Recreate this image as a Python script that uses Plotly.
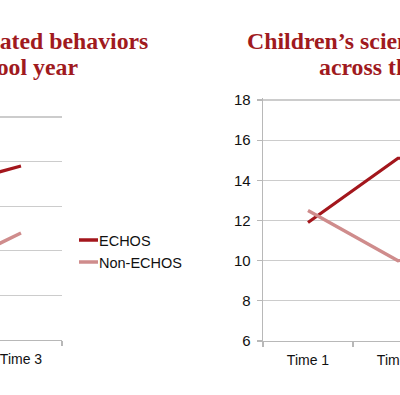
import plotly.graph_objects as go

# ---- data ----
categories = ["Time 1", "Time 2", "Time 3"]
series_names = ["ECHOS", "Non-ECHOS"]
behaviors_echos = [2.6, 3.4, 3.9]
behaviors_non_echos = [1.9, 1.5, 2.4]
knowledge_echos = [11.9, 15.1, 15.6]
knowledge_non_echos = [12.5, 10.0, 10.6]
right_yticks = [6, 8, 10, 12, 14, 16, 18]
left_yticks = [0, 1, 2, 3, 4, 5]
left_title = ["Children\u2019s science-related behaviors", "across the school year"]
right_title = ["Children\u2019s science knowledge scores", "across the school year"]

# ---- style ----
W, H = 400, 395
def px(x):
    return x / W
def py(y):
    return 1 - y / H

ECHOS_COLOR = "#A3161C"
NON_COLOR = "#CF8C8C"
TITLE_COLOR = "#A01A1E"
GRID = "#CCCCCC"
AXIS = "#B8B8B8"
TICK_FONT = dict(family="Liberation Sans, Arial, sans-serif", size=14, color="#111111")
TITLE_FONT = dict(family="Liberation Serif, Times New Roman, serif", size=23.8, color=TITLE_COLOR)

fig = go.Figure()

# left chart
fig.add_trace(go.Scatter(x=categories, y=behaviors_echos, mode="lines", name=series_names[0],
                         line=dict(color=ECHOS_COLOR, width=3.2), xaxis="x", yaxis="y", showlegend=False))
fig.add_trace(go.Scatter(x=categories, y=behaviors_non_echos, mode="lines", name=series_names[1],
                         line=dict(color=NON_COLOR, width=3.4), xaxis="x", yaxis="y", showlegend=False))
# right chart
fig.add_trace(go.Scatter(x=categories, y=knowledge_echos, mode="lines", name=series_names[0],
                         line=dict(color=ECHOS_COLOR, width=3.2), xaxis="x2", yaxis="y2", showlegend=False))
fig.add_trace(go.Scatter(x=categories, y=knowledge_non_echos, mode="lines", name=series_names[1],
                         line=dict(color=NON_COLOR, width=3.4), xaxis="x2", yaxis="y2", showlegend=False))

common_x = dict(type="category", categoryorder="array", categoryarray=categories,
                showline=True, linecolor=AXIS, linewidth=1.3, ticks="outside", tickson="boundaries",
                ticklen=5, tickcolor=AXIS, tickwidth=1.3, showgrid=False, tickfont=TICK_FONT,
                fixedrange=True, ticklabelstandoff=6, automargin=False)

# plot areas extend 2px above the top gridline so that it is not clipped away
left_px_per_unit = (340 - 117) / 5
right_px_per_unit = (341 - 100) / 12

fig.update_layout(
    template="none",
    width=W, height=H,
    margin=dict(l=0, r=0, t=0, b=0, autoexpand=False),
    paper_bgcolor="white", plot_bgcolor="white",
    showlegend=False, hovermode=False,
    xaxis=dict(domain=[0, px(62)], range=[1.744, 2.5], anchor="y", **common_x),
    yaxis=dict(domain=[py(340), py(115)], range=[0, 5 + 2 / left_px_per_unit], tickvals=left_yticks,
               showgrid=True, gridcolor=GRID, gridwidth=1.2, showticklabels=False, ticks="",
               zeroline=False, showline=False, anchor="x", fixedrange=True, automargin=False),
    xaxis2=dict(domain=[px(263), 1], range=[-0.5, -0.5 + 137 / 90], anchor="y2", **common_x),
    yaxis2=dict(domain=[py(341), py(98)], range=[6, 18 + 2 / right_px_per_unit], tickvals=right_yticks,
                showgrid=True, gridcolor=GRID, gridwidth=1.2, zeroline=False, showline=True,
                linecolor=AXIS, linewidth=1.3, ticks="outside", ticklen=5, tickcolor=AXIS, tickwidth=1.3,
                tickfont=dict(family="Liberation Sans, Arial, sans-serif", size=15, color="#111111"),
                anchor="x2", fixedrange=True, ticklabelstandoff=3, automargin=False),
)

# legend (custom, as in the slide)
legend_items = [(series_names[0], ECHOS_COLOR, 240), (series_names[1], NON_COLOR, 262)]
for name, color, y in legend_items:
    fig.add_shape(type="line", xref="paper", yref="paper", x0=px(79), x1=px(98), y0=py(y), y1=py(y),
                  line=dict(color=color, width=3.5))
    fig.add_annotation(text=name, xref="paper", yref="paper", x=px(98), y=py(y + 1),
                       xanchor="left", yanchor="middle", showarrow=False, borderpad=0,
                       font=dict(family="Liberation Sans, Arial, sans-serif", size=14.5, color="#111111"))

# titles (slide is cropped, so titles run off the edges)
fig.add_annotation(text="<b>" + left_title[0] + "</b>", xref="paper", yref="paper", x=px(149), y=py(41),
                   xanchor="right", yanchor="middle", showarrow=False, borderpad=0, font=TITLE_FONT)
fig.add_annotation(text="<b>" + left_title[1] + "</b>", xref="paper", yref="paper", x=px(79), y=py(67),
                   xanchor="right", yanchor="middle", showarrow=False, borderpad=0, font=TITLE_FONT)
fig.add_annotation(text="<b>" + right_title[0] + "</b>", xref="paper", yref="paper", x=px(246), y=py(41),
                   xanchor="left", yanchor="middle", showarrow=False, borderpad=0, font=TITLE_FONT)
fig.add_annotation(text="<b>" + right_title[1] + "</b>", xref="paper", yref="paper", x=px(318), y=py(67),
                   xanchor="left", yanchor="middle", showarrow=False, borderpad=0, font=TITLE_FONT)

fig.write_html("out.html", config={"displayModeBar": False, "staticPlot": True},
               post_script="document.body.style.margin='0';")
